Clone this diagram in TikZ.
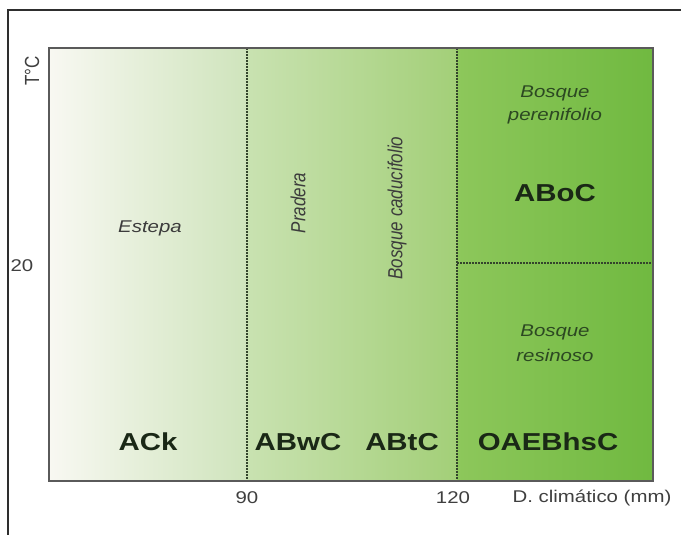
\documentclass[tikz,border=0pt]{standalone}
\usepackage{fontspec}
\setmainfont{Liberation Sans}
\usepackage{graphicx}
\definecolor{framec}{HTML}{2E2E2E}
\definecolor{axisc}{HTML}{5A5A5A}
\definecolor{dashc}{HTML}{34442C}
\definecolor{gA}{HTML}{F8F8F2}
\definecolor{gB}{HTML}{CFE4BC}
\definecolor{gC}{HTML}{C9E2B1}
\definecolor{gD}{HTML}{A3CF78}
\definecolor{gE}{HTML}{8DC75B}
\definecolor{gF}{HTML}{70B940}
\definecolor{boldc}{HTML}{1A2816}
\definecolor{itc}{HTML}{3C3C3C}
\definecolor{itg}{HTML}{2C4822}
\newcommand{\hs}[1]{\scalebox{1.2}[1]{#1}}
\newcommand{\vs}[1]{\scalebox{1}[1.2]{#1}}
\tikzset{
  bigl/.style={text=boldc,font=\fontsize{24.5}{26}\selectfont\bfseries,inner sep=0pt},
  itl/.style={text=itc,font=\fontsize{17}{20}\selectfont\itshape,inner sep=0pt,align=center},
  itgr/.style={text=itg,font=\fontsize{17}{21}\selectfont\itshape,inner sep=0pt,align=center},
  axl/.style={text=axisc!70!black,font=\fontsize{17}{20}\selectfont,inner sep=0pt},
  divider/.style={dashc,line width=1.1pt,dash pattern=on 1.6pt off 1.4pt}
}
\begin{document}
\begin{tikzpicture}[x=1pt,y=-1pt]
\useasboundingbox (0,0) rectangle (681,535);
\fill[white] (0,0) rectangle (681,535);
% zones
\shade[left color=gA,right color=gB] (49,48) rectangle (247,481);
\shade[left color=gC,right color=gD] (247,48) rectangle (457,481);
\shade[left color=gE,right color=gF] (457,48) rectangle (653,481);
% coordinates
\coordinate (v1t) at (247,48);
\coordinate (v1b) at (247,481);
\coordinate (v2t) at (457,48);
\coordinate (v2b) at (457,481);
\coordinate (hl) at (457,263);
\coordinate (hr) at (653,263);
\draw[divider] (v1t) -- (v1b);
\draw[divider] (v2t) -- (v2b);
\draw[divider] (hl) -- (hr);
% plot border
\draw[axisc,line width=1.8pt] (49,48) rectangle (653,481);
% outer frame
\draw[framec,line width=2.4pt] (8,535) -- (8,10) -- (681,10);
% axis labels
\node[axl,rotate=90] (tc) at (32,71) {\vs{T°C}};
\node[axl] (t20) at (22,266) {\hs{20}};
\node[axl] (x90) at (247,498) {\hs{90}};
\node[axl] (x120) at (453,498) {\hs{120}};
\node[axl] (xlab) at (592,498) {\hs{D. climático (mm)}};
% italic labels
\node[itl] (estepa) at (150,228) {\hs{Estepa}};
\node[itl,rotate=90] (pradera) at (298,203) {\vs{Pradera}};
\node[itl,rotate=90] (caduc) at (397,208) {\vs{Bosque caducifolio}};
\node[itgr] (peren1) at (555,93) {\hs{Bosque}};
\node[itgr] (peren2) at (555,116) {\hs{perenifolio}};
\node[itgr] (resin1) at (555,332) {\hs{Bosque}};
\node[itgr] (resin2) at (555,355) {\hs{resinoso}};
% bold labels
\node[bigl] (aboc) at (555,193) {\hs{ABoC}};
\node[bigl] (ack) at (148,442) {\hs{ACk}};
\node[bigl] (abwc) at (298,442) {\hs{ABwC}};
\node[bigl] (abtc) at (402,442) {\hs{ABtC}};
\node[bigl] (oaeb) at (548,442) {\hs{OAEBhsC}};
\end{tikzpicture}
\end{document}
